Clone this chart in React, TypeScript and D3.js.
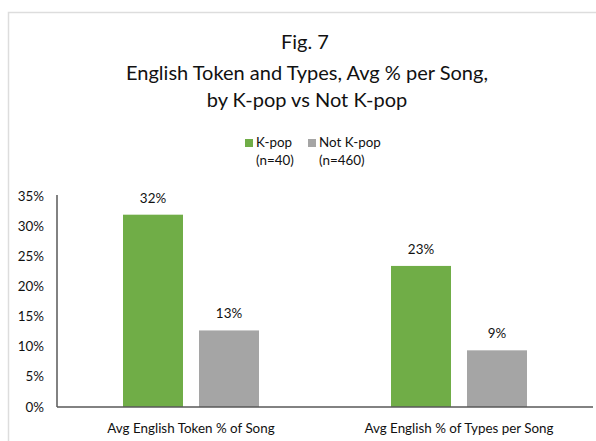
import React from "react";
import * as d3 from "d3";

const categories = ["Avg English Token % of Song", "Avg English % of Types per Song"];
const seriesNames = ["K-pop", "Not K-pop"];
const seriesSub = ["(n=40)", "(n=460)"];
const kpopValues = [0.319, 0.234];
const notKpopValues = [0.127, 0.094];
const valueLabels = [["32%", "13%"], ["23%", "9%"]];
const yTicks = [0, 0.05, 0.1, 0.15, 0.2, 0.25, 0.3, 0.35];
const colors = ["#70AD47", "#A5A5A5"];

const W = 596;
const H = 441;
const FONT = "Lato, 'Open Sans', sans-serif";

export default function App() {
  const left = 57, right = 593, top = 196, bottom = 407;
  const x0 = d3.scaleBand<string>().domain(categories).range([left, right]).paddingInner(0).paddingOuter(0);
  const y = d3.scaleLinear().domain([0, 0.35]).range([bottom, top]);
  const bw = x0.bandwidth();
  const barW = bw * (60 / 268);
  const gap = bw * (16 / 268);
  const series = [kpopValues, notKpopValues];
  const fs = 13.4;

  return (
    <svg width={W} height={H} style={{ position: "absolute", left: 0, top: 0, background: "#fff" }} fontFamily={FONT}>
      <rect x={0} y={0} width={W} height={H} fill="#fff" />
      <path d={`M8.5,${H} V12.5 H${W}`} fill="none" stroke="#DDDDDD" strokeWidth={1.5} />
      <g textAnchor="middle" fill="#111" fontSize={20}>
        <text x={305} y={49}>Fig. 7</text>
        <text x={307} y={80}>English Token and Types, Avg % per Song,</text>
        <text x={307} y={107}>by K-pop vs Not K-pop</text>
      </g>
      {seriesNames.map((s, i) => {
        const lx = i === 0 ? 245 : 308;
        return (
          <g key={s}>
            <rect x={lx} y={139} width={8} height={8} fill={colors[i]} />
            <text x={lx + 11} y={147} fontSize={fs} fill="#111">{s}</text>
            <text x={lx + 11} y={165} fontSize={fs} fill="#111">{seriesSub[i]}</text>
          </g>
        );
      })}
      {yTicks.map((t) => (
        <text key={t} x={44} y={y(t) + 4.5} textAnchor="end" fontSize={fs} fill="#111">
          {d3.format(".0%")(t)}
        </text>
      ))}
      {categories.map((c, ci) => {
        const cx = (x0(c) as number) + bw / 2;
        return (
          <g key={c}>
            {series.map((vals, si) => {
              const bx = si === 0 ? cx - gap / 2 - barW : cx + gap / 2;
              return (
                <g key={si}>
                  <rect x={bx} y={y(vals[ci])} width={barW} height={bottom - y(vals[ci])} fill={colors[si]} />
                  <text x={bx + barW / 2} y={y(vals[ci]) - 12} textAnchor="middle" fontSize={fs} fill="#111">
                    {valueLabels[ci][si]}
                  </text>
                </g>
              );
            })}
            <text x={cx} y={433} textAnchor="middle" fontSize={fs} fill="#111">{c}</text>
          </g>
        );
      })}
      <line x1={left} x2={left} y1={top - 1} y2={bottom} stroke="#595959" strokeWidth={1.5} />
      <line x1={left} x2={right} y1={bottom} y2={bottom} stroke="#595959" strokeWidth={1.5} />
    </svg>
  );
}
